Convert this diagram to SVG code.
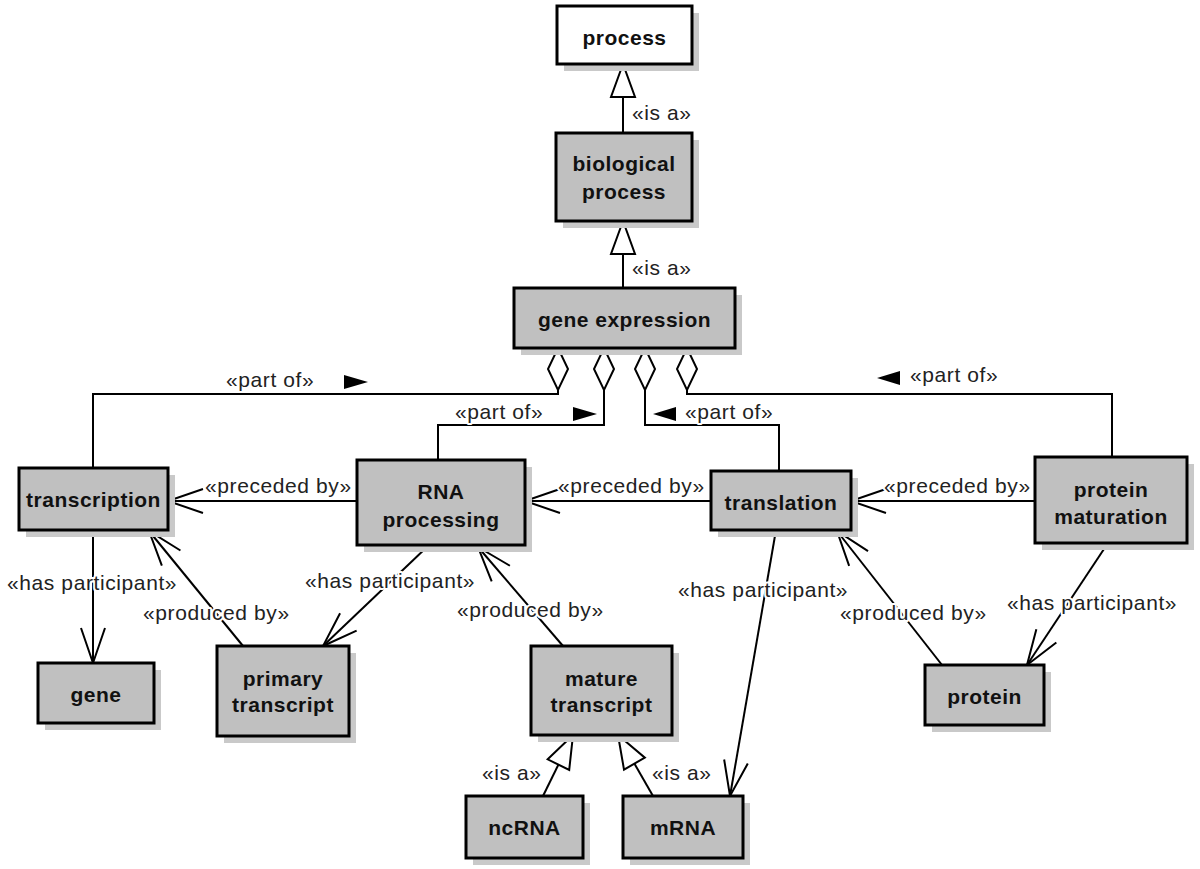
<svg xmlns="http://www.w3.org/2000/svg" width="1200" height="869" viewBox="0 0 1200 869">
<style>
.sh{fill:#c9c9c9}
.bx{fill:#c0c0c0;stroke:#000;stroke-width:3}
.wb{fill:#fff;stroke:#000;stroke-width:3}
.nt{font-family:"Liberation Sans",Arial,sans-serif;font-weight:bold;font-size:21px;letter-spacing:0.5px;fill:#111;text-anchor:middle}
.ln{fill:none;stroke:#000;stroke-width:2}
.lb{font-family:"Liberation Sans",Arial,sans-serif;font-size:21px;letter-spacing:0.6px;fill:#222;stroke:#fff;stroke-width:4;paint-order:stroke;stroke-linejoin:round}
.dm{fill:#fff;stroke:#000;stroke-width:2}
.ft{fill:#000}
</style>
<defs>
<marker id="open" markerUnits="userSpaceOnUse" markerWidth="80" markerHeight="80" refX="0" refY="0" orient="auto" overflow="visible" viewBox="-40 -40 80 80">
<path d="M-35,-12 L0,0 L-35,12" fill="none" stroke="#000" stroke-width="2"/>
</marker>
<marker id="tri" markerUnits="userSpaceOnUse" markerWidth="80" markerHeight="80" refX="0" refY="0" orient="auto" overflow="visible" viewBox="-40 -40 80 80">
<path d="M0,0 L-33,-12 L-33,12 Z" fill="#fff" stroke="#000" stroke-width="2"/>
</marker>
</defs>
<rect width="1200" height="869" fill="#fff"/>

<g id="connectors">
<path class="ln" d="M623,133 L623,64" marker-end="url(#tri)"/>
<path class="ln" d="M623,288 L623,221" marker-end="url(#tri)"/>
<path class="ln" d="M558,390 L558,394 L93,394 L93,468"/>
<path class="ln" d="M604,390 L604,425 L438,425 L438,460"/>
<path class="ln" d="M645,390 L645,425 L779,425 L779,471"/>
<path class="ln" d="M687,390 L687,394 L1112,394 L1112,457"/>
<polygon class="dm" points="558,348 568,369 558,390 548,369"/>
<polygon class="dm" points="604,348 614,369 604,390 594,369"/>
<polygon class="dm" points="645,348 655,369 645,390 635,369"/>
<polygon class="dm" points="687,348 697,369 687,390 677,369"/>
<polygon class="ft" points="344,375 368,382 344,389"/>
<polygon class="ft" points="573,407 597,414 573,421"/>
<polygon class="ft" points="676,407 653,414 676,421"/>
<polygon class="ft" points="900,371 877,378 900,385"/>
<path class="ln" d="M357,501 L168,501" marker-end="url(#open)"/>
<path class="ln" d="M711,501 L525,501" marker-end="url(#open)"/>
<path class="ln" d="M1035,501 L851,501" marker-end="url(#open)"/>
<path class="ln" d="M93,530 L93,663" marker-end="url(#open)"/>
<path class="ln" d="M243,646 L149,531" marker-end="url(#open)"/>
<path class="ln" d="M428,546 L323,646" marker-end="url(#open)"/>
<path class="ln" d="M563,646 L478,547" marker-end="url(#open)"/>
<path class="ln" d="M776,530 L730,796" marker-end="url(#open)"/>
<path class="ln" d="M942,665 L837,531" marker-end="url(#open)"/>
<path class="ln" d="M1108,543 L1027,665" marker-end="url(#open)"/>
<path class="ln" d="M543,796 L573,735" marker-end="url(#tri)"/>
<path class="ln" d="M653,796 L618,735" marker-end="url(#tri)"/>
<text class="lb" x="632" y="120">«is a»</text>
<text class="lb" x="632" y="275">«is a»</text>
<text class="lb" x="226" y="387">«part of»</text>
<text class="lb" x="455" y="419">«part of»</text>
<text class="lb" x="685" y="419">«part of»</text>
<text class="lb" x="910" y="382">«part of»</text>
<text class="lb" x="205" y="493">«preceded by»</text>
<text class="lb" x="558" y="493">«preceded by»</text>
<text class="lb" x="884" y="493">«preceded by»</text>
<text class="lb" x="7" y="590">«has participant»</text>
<text class="lb" x="143" y="620">«produced by»</text>
<text class="lb" x="305" y="588">«has participant»</text>
<text class="lb" x="457" y="617">«produced by»</text>
<text class="lb" x="678" y="597">«has participant»</text>
<text class="lb" x="840" y="620">«produced by»</text>
<text class="lb" x="1007" y="610">«has participant»</text>
<text class="lb" x="482" y="780">«is a»</text>
<text class="lb" x="652" y="780">«is a»</text>
</g>

<g id="process">
<rect class="sh" x="564" y="13" width="135" height="58"/>
<rect class="wb" x="557" y="6" width="135" height="58"/>
<text class="nt" x="624.5" y="45">process</text>
</g>
<g id="biological-process">
<rect class="sh" x="563" y="140" width="136" height="88"/>
<rect class="bx" x="556" y="133" width="136" height="88"/>
<text class="nt" x="624" y="171">biological</text>
<text class="nt" x="624" y="199">process</text>
</g>
<g id="gene-expression">
<rect class="sh" x="521" y="295" width="221" height="60"/>
<rect class="bx" x="514" y="288" width="221" height="60"/>
<text class="nt" x="624.5" y="327">gene expression</text>
</g>
<g id="transcription">
<rect class="sh" x="26" y="475" width="149" height="62"/>
<rect class="bx" x="19" y="468" width="149" height="62"/>
<text class="nt" x="93.5" y="507">transcription</text>
</g>
<g id="rna-processing">
<rect class="sh" x="364" y="467" width="168" height="85"/>
<rect class="bx" x="357" y="460" width="168" height="85"/>
<text class="nt" x="441" y="499">RNA</text>
<text class="nt" x="441" y="527">processing</text>
</g>
<g id="translation">
<rect class="sh" x="718" y="478" width="140" height="59"/>
<rect class="bx" x="711" y="471" width="140" height="59"/>
<text class="nt" x="781" y="510">translation</text>
</g>
<g id="protein-maturation">
<rect class="sh" x="1042" y="464" width="152" height="86"/>
<rect class="bx" x="1035" y="457" width="152" height="86"/>
<text class="nt" x="1111" y="497">protein</text>
<text class="nt" x="1111" y="524">maturation</text>
</g>
<g id="gene">
<rect class="sh" x="45" y="670" width="116" height="60"/>
<rect class="bx" x="38" y="663" width="116" height="60"/>
<text class="nt" x="96" y="702">gene</text>
</g>
<g id="primary-transcript">
<rect class="sh" x="224" y="653" width="132" height="90"/>
<rect class="bx" x="217" y="646" width="132" height="90"/>
<text class="nt" x="283" y="686">primary</text>
<text class="nt" x="283" y="712">transcript</text>
</g>
<g id="mature-transcript">
<rect class="sh" x="538" y="653" width="141" height="89"/>
<rect class="bx" x="531" y="646" width="141" height="89"/>
<text class="nt" x="601.5" y="686">mature</text>
<text class="nt" x="601.5" y="712">transcript</text>
</g>
<g id="ncRNA">
<rect class="sh" x="473" y="803" width="117" height="62"/>
<rect class="bx" x="466" y="796" width="117" height="62"/>
<text class="nt" x="524.5" y="835">ncRNA</text>
</g>
<g id="mRNA">
<rect class="sh" x="630" y="803" width="120" height="62"/>
<rect class="bx" x="623" y="796" width="120" height="62"/>
<text class="nt" x="683" y="835">mRNA</text>
</g>
<g id="protein">
<rect class="sh" x="932" y="672" width="119" height="60"/>
<rect class="bx" x="925" y="665" width="119" height="60"/>
<text class="nt" x="984.5" y="704">protein</text>
</g>
</svg>
